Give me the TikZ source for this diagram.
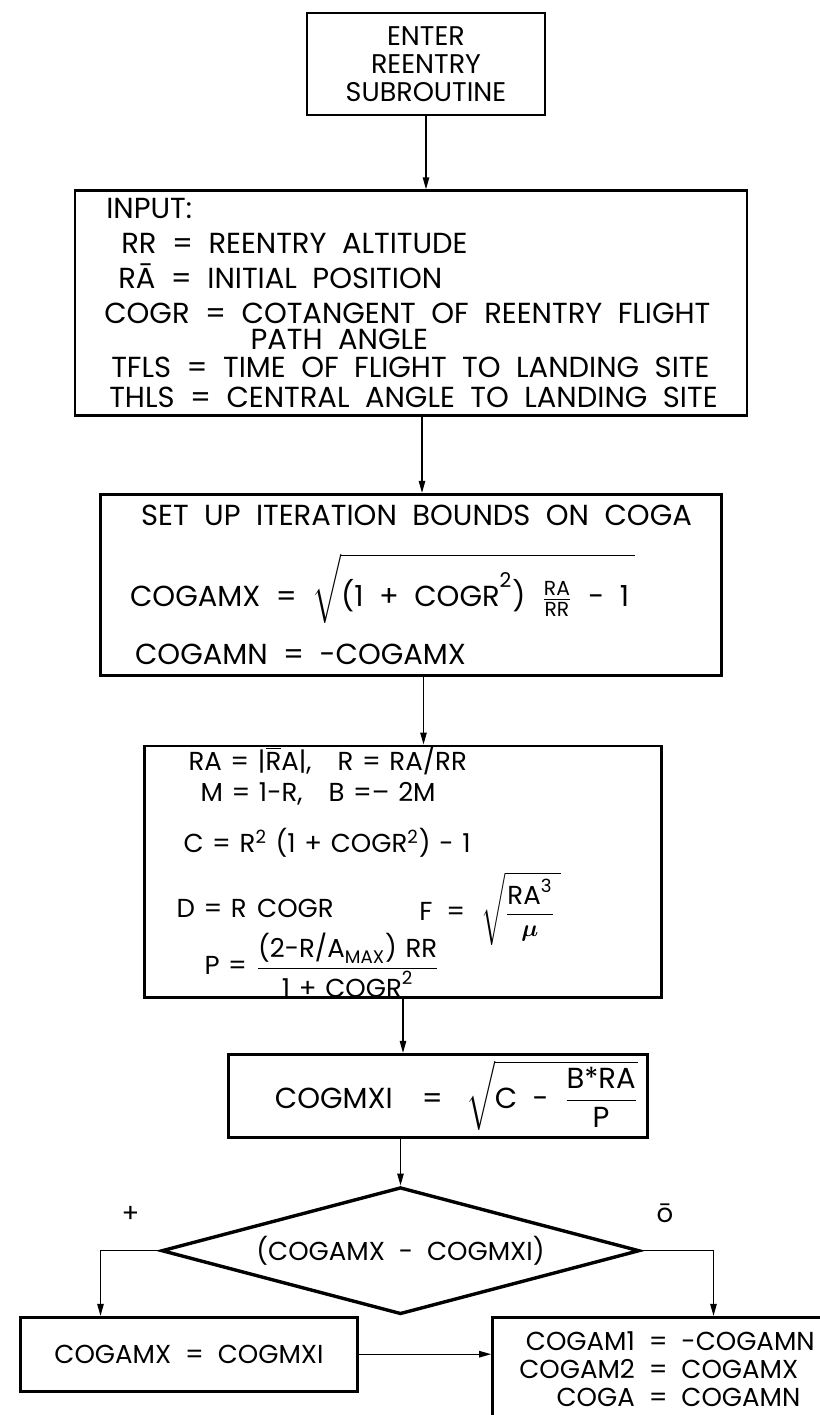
\documentclass[tikz,border=0pt]{standalone}
\usepackage{amsmath}
\usepackage{fontspec}
\setmainfont{Poppins}[WordSpace=2]
\usetikzlibrary{arrows.meta, positioning, shapes.geometric}

\begin{document}
\begin{tikzpicture}[
    box/.style={draw, line width=1.3pt, align=center, inner sep=0pt},
    decision/.style={draw, diamond, line width=1.7pt, aspect=3.76, inner sep=0pt, minimum width=239pt, minimum height=63.5pt},
    arrow/.style={-{Triangle[length=6pt, width=3.2pt]}, line width=0.7pt},
    big/.style={font=\fontsize{14.5}{17.5}\selectfont},
    mid/.style={font=\fontsize{13}{15.5}\selectfont},
    small/.style={font=\fontsize{13.5}{14}\selectfont}
]
\useasboundingbox (0,0) rectangle (410pt,-707.5pt);

% Entry
\node[box, small, minimum width=119pt, minimum height=51pt] (enter) at (213pt,-32pt) {ENTER\\REENTRY\\SUBROUTINE};

% Input data
\node[box, big, align=left, below=36.5pt of enter, xshift=-7.5pt, minimum width=336pt, minimum height=112.5pt] (input) {%
\hspace*{1pt}INPUT:\\
\hspace*{8.5pt}RR = REENTRY ALTITUDE\\
\hspace*{7pt}R\={A} = INITIAL POSITION\\
COGR = COTANGENT OF REENTRY FLIGHT\\[-4.5pt]
\phantom{COGR = }\hspace*{4.5pt}PATH ANGLE\\[-3.5pt]
\hspace*{3.5pt}TFLS = TIME OF FLIGHT TO LANDING SITE\\[-2.5pt]
\hspace*{2.5pt}THLS = CENTRAL ANGLE TO LANDING SITE};

% Iteration bounds
\node[box, big, align=left, below=38pt of input, minimum width=310.5pt, minimum height=90.5pt] (setup) {%
\hspace*{5.5pt}SET UP ITERATION BOUNDS ON COGA\\[13pt]
COGAMX = $\sqrt{\rule[-3pt]{0pt}{24pt}\text{(1 + COGR}^{\text{2}}\text{)}\;\;\frac{\text{RA}}{\text{RR}}\;\;\text{- 1}\hspace{3pt}}$\\[9pt]
\hspace*{2.5pt}COGAMN = -COGAMX};

% Constants
\node[box, mid, align=left, below=34pt of setup, xshift=-4pt, text width=226.5pt, inner xsep=16pt, minimum height=125pt] (ra) {%
\hspace*{6pt}RA = |$\overline{\text{R}}$A|,\hspace{1em}R = RA/RR\\
\hspace*{12pt}M = 1-R,\hspace{1em}B =– 2M\\[10pt]
\hspace*{3.5pt}C = R\textsuperscript{2} (1 + COGR\textsuperscript{2}) - 1\\[17pt]
D = R\hspace{0.4em}COGR\\[7pt]
\hspace*{14pt}P = $\dfrac{\text{(2-R/A}_{\text{MAX}}\text{) RR}}{\text{1 + COGR}^{\text{2}}}$};
\node[mid, anchor=base west] (fdef) at ([xshift=134.5pt, yshift=-88pt]ra.north west) {F =\hspace{8pt}$\sqrt{\dfrac{\text{RA}^{\text{3}}}{\boldsymbol{\mu}}\hspace{3pt}}$};

% Upper bound
\node[box, big, below=27pt of ra, xshift=17.5pt, minimum width=209.5pt, minimum height=41.5pt] (mxi) {\hspace*{18.5pt}COGMXI\hspace{1em}=\hspace{0.8em}$\sqrt{\text{C - }\dfrac{\text{B*RA}}{\text{P}}}$};

% Test
\node[decision, mid, below=23.5pt of mxi, xshift=-18.75pt] (test) {(COGAMX - COGMXI)};
\node[mid, inner sep=0pt, above left=14pt and 10pt of test.west] (plus) {+};
\node[mid, inner sep=0pt, above right=14pt and 7.5pt of test.east] (zero) {\={o}};

% Branches
\node[box, mid, below=0pt of test, xshift=-105.75pt, minimum width=168.5pt, minimum height=37pt] (setmx) {COGAMX = COGMXI};
\node[box, below=0pt of test, xshift=133.25pt, minimum width=174.5pt, minimum height=56pt, font=\fontsize{13}{14}\selectfont] (init) {\begin{tabular}{@{}r@{ = }l@{}}COGAM1 & -COGAMN\\ COGAM2 & COGAMX\\ COGA & COGAMN\end{tabular}};

% Arrows
\draw[arrow] (enter.south) -- (enter.south |- input.north);
\draw[arrow] ([xshift=5.5pt]input.south) -- ([xshift=5.5pt]input.south |- setup.north);
\draw[arrow] ([xshift=6.25pt]setup.south) -- ([xshift=6.25pt]setup.south |- ra.north);
\draw[arrow] (ra.south) -- (ra.south |- mxi.north);
\draw[arrow] (test.north |- mxi.south) -- (test.north);
\draw[arrow] (test.west) -| ([xshift=-44.25pt]setmx.north);
\draw[arrow] (test.east) -| ([xshift=23.25pt]init.north);
\draw[arrow] (setmx.east) -- (setmx.east -| init.west);
\end{tikzpicture}
\end{document}
